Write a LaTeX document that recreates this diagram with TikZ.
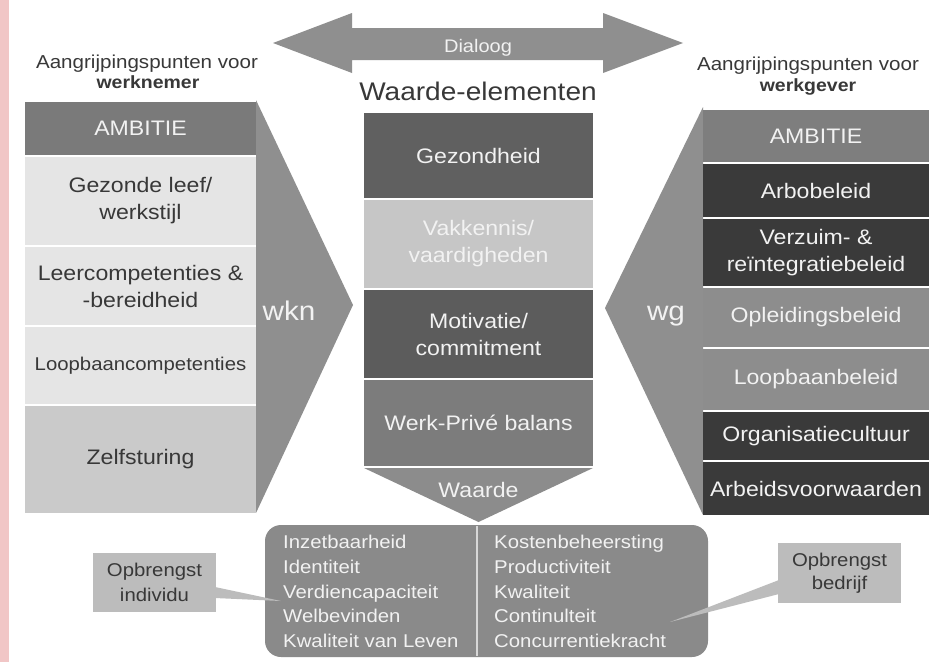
\documentclass[tikz,border=0pt]{standalone}
\usepackage{fontspec}
\setmainfont{Liberation Sans}[FakeStretch=1.1]
\definecolor{pinkstrip}{RGB}{241,198,198}
\definecolor{gAmb}{RGB}{122,122,122}
\definecolor{gLight}{RGB}{229,229,229}
\definecolor{gZelf}{RGB}{202,202,202}
\definecolor{gTri}{RGB}{143,143,143}
\definecolor{gDarkA}{RGB}{96,96,96}
\definecolor{gVak}{RGB}{198,198,198}
\definecolor{gMot}{RGB}{92,92,92}
\definecolor{gWerk}{RGB}{124,124,124}
\definecolor{gChev}{RGB}{140,140,140}
\definecolor{gRAmb}{RGB}{126,126,126}
\definecolor{gBlack}{RGB}{58,58,58}
\definecolor{gMid}{RGB}{141,141,141}
\definecolor{gBot}{RGB}{138,138,138}
\definecolor{gCall}{RGB}{188,188,188}
\definecolor{tDark}{RGB}{56,56,56}
\definecolor{tLight}{RGB}{242,242,242}
\definecolor{gDiv}{RGB}{215,215,215}
\begin{document}
\begin{tikzpicture}[x=1pt,y=-1pt,
  box/.style={rectangle, inner sep=0pt, align=center, font=\fontsize{21}{27}\selectfont},
  lcol/.style={box, minimum width=231pt},
  ccol/.style={box, minimum width=229pt},
  rcol/.style={box, minimum width=226pt},
  head/.style={inner sep=0pt, anchor=base, text=tDark, font=\fontsize{18.7}{22}\selectfont},
  headb/.style={head, font=\fontsize{17.7}{22}\selectfont\bfseries},
  item/.style={inner sep=0pt, anchor=base west, text=tLight, font=\fontsize{18.5}{24}\selectfont},
  callout/.style={rectangle, inner sep=0pt, fill=gCall, text=tDark, align=center},
  big/.style={inner sep=0pt, anchor=base, text=tLight, font=\fontsize{27}{30}\selectfont}
]
\useasboundingbox (0,0) rectangle (931,662);
\fill[white] (0,0) rectangle (931,662);
\fill[pinkstrip] (0,0) rectangle (9,662);

% Dialoog arrow
\fill[gTri] (273,43) -- (352,13) -- (352,28) -- (603,28) -- (603,13) -- (683,43)
  -- (603,73) -- (603,60) -- (352,60) -- (352,73) -- cycle;
\node[inner sep=0pt, anchor=base, text=tLight, font=\fontsize{18.2}{22}\selectfont] (dialoog) at (478,52) {Dialoog};

% headers
\node[head] (hl1) at (147,68) {Aangrijpingspunten voor};
\node[headb] (hl2) at (148,88) {werknemer};
\node[head] (hr1) at (808,70) {Aangrijpingspunten voor};
\node[headb] (hr2) at (808,91) {werkgever};
\node[inner sep=0pt, anchor=base, text=tDark, font=\fontsize{25.5}{30}\selectfont] (we) at (478,100) {Waarde-elementen};

% triangles
\fill[gTri] (256,100) -- (353,305) -- (256,513) -- cycle;
\fill[gTri] (703,107) -- (605,308) -- (703,515) -- cycle;
\node[big] (wkn) at (289,320) {wkn};
\node[big] (wg) at (666,320) {wg};

% left column
\node[lcol, fill=gAmb, text=tLight, minimum height=53pt] (l1) at (140.5,128.5) {AMBITIE};
\node[lcol, fill=gLight, text=tDark, minimum height=88pt] (l2) at (140.5,201) {Gezonde leef/\\werkstijl};
\node[lcol, fill=gLight, text=tDark, minimum height=78pt] (l3) at (140.5,286) {Leercompetenties \&\\-bereidheid};
\node[lcol, fill=gLight, text=tDark, minimum height=77pt, font=\fontsize{18.5}{24}\selectfont] (l4) at (140.5,365.5) {Loopbaancompetenties};
\node[lcol, fill=gZelf, text=tDark, minimum height=107pt] (l5) at (140.5,459.5) {Zelfsturing};

% centre column
\node[ccol, fill=gDarkA, text=tLight, minimum height=85pt] (c1) at (478.5,155.5) {Gezondheid};
\node[ccol, fill=gVak, text=tLight, minimum height=88pt] (c2) at (478.5,244) {Vakkennis/\\vaardigheden};
\node[ccol, fill=gMot, text=tLight, minimum height=88pt] (c3) at (478.5,334) {Motivatie/\\commitment};
\node[ccol, fill=gWerk, text=tLight, minimum height=86pt] (c4) at (478.5,423) {Werk-Privé balans};
\fill[gChev] (364,468) -- (593,468) -- (478.5,522) -- cycle;
\node[inner sep=0pt, anchor=base, text=tLight, font=\fontsize{21}{27}\selectfont] (waarde) at (478.5,497) {Waarde};

% right column
\node[rcol, fill=gRAmb, text=tLight, minimum height=52pt] (r1) at (816,136) {AMBITIE};
\node[rcol, fill=gBlack, text=tLight, minimum height=53pt] (r2) at (816,190.5) {Arbobeleid};
\node[rcol, fill=gBlack, text=tLight, minimum height=67pt] (r3) at (816,252.5) {Verzuim- \&\\reïntegratiebeleid};
\node[rcol, fill=gMid, text=tLight, minimum height=59pt] (r4) at (816,317.5) {Opleidingsbeleid};
\node[rcol, fill=gMid, text=tLight, minimum height=61pt] (r5) at (816,379.5) {Loopbaanbeleid};
\node[rcol, fill=gBlack, text=tLight, minimum height=48pt] (r6) at (816,436) {Organisatiecultuur};
\node[rcol, fill=gBlack, text=tLight, minimum height=53pt] (r7) at (816,488.5) {Arbeidsvoorwaarden};

% bottom box
\node[rectangle, rounded corners=16pt, fill=gBot, inner sep=0pt, minimum width=443pt, minimum height=132pt] (bot) at (486.5,591) {};
\coordinate (dtop) at (477,526);
\coordinate (dbot) at (477,656);
\draw[gDiv, line width=1.2pt] (dtop) -- (dbot);

\node[item] (i1) at (283,548) {Inzetbaarheid};
\node[item] (i2) at (283,573) {Identiteit};
\node[item] (i3) at (283,598) {Verdiencapaciteit};
\node[item] (i4) at (283,622) {Welbevinden};
\node[item] (i5) at (283,647) {Kwaliteit van Leven};
\node[item] (k1) at (494,548) {Kostenbeheersting};
\node[item] (k2) at (494,573) {Productiviteit};
\node[item] (k3) at (494,598) {Kwaliteit};
\node[item] (k4) at (494,622) {Continulteit};
\node[item] (k5) at (494,647) {Concurrentiekracht};

% callouts
\fill[gCall] (215,587) -- (281,601) -- (215,598) -- cycle;
\node[callout, minimum width=123pt, minimum height=59pt, font=\fontsize{18.5}{25}\selectfont] (opi) at (154.5,582.5) {Opbrengst\\individu};
\fill[gCall] (779,580) -- (670,622) -- (779,594) -- cycle;
\node[callout, minimum width=123pt, minimum height=60pt, font=\fontsize{18.5}{23}\selectfont] (opb) at (839.5,573) {Opbrengst\\bedrijf};
\end{tikzpicture}
\end{document}
